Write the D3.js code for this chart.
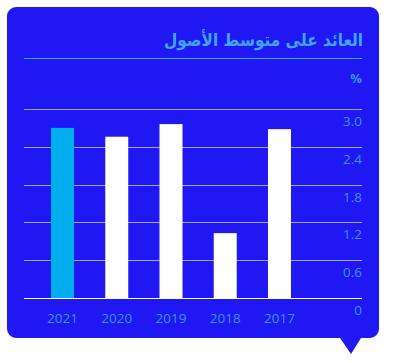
<!DOCTYPE html>
<html>
<head>
<meta charset="utf-8">
<script src="https://cdn.jsdelivr.net/npm/d3@7"></script>
<style>
  body { margin: 0; background: #fff; }
  svg { display: block; font-family: "Segoe UI", "Open Sans", "Noto Sans", "DejaVu Sans", sans-serif; }
</style>
</head>
<body>
<div id="chart"></div>
<script>
// data
const years = ['2021', '2020', '2019', '2018', '2017'];
const values = [2.7, 2.56, 2.76, 1.03, 2.68];
const yTicks = [0, 0.6, 1.2, 1.8, 2.4, 3.0];
const title = 'العائد على متوسط الأصول';
const unit = '%';

const width = 394;
const height = 363;

const svg = d3.select('#chart').append('svg').attr('width', width).attr('height', height);

// card with pointer at the bottom right
const card = { x: 7, y: 7, w: 372, h: 331, r: 9 };
const tip = { left: 340, right: 361, x: 351, y: 354 };
const p = d3.path();
p.moveTo(card.x + card.r, card.y);
p.lineTo(card.x + card.w - card.r, card.y);
p.arcTo(card.x + card.w, card.y, card.x + card.w, card.y + card.r, card.r);
p.lineTo(card.x + card.w, card.y + card.h - card.r);
p.arcTo(card.x + card.w, card.y + card.h, card.x + card.w - card.r, card.y + card.h, card.r);
p.lineTo(tip.right, card.y + card.h);
p.lineTo(tip.x, tip.y);
p.lineTo(tip.left, card.y + card.h);
p.lineTo(card.x + card.r, card.y + card.h);
p.arcTo(card.x, card.y + card.h, card.x, card.y + card.h - card.r, card.r);
p.lineTo(card.x, card.y + card.r);
p.arcTo(card.x, card.y, card.x + card.r, card.y, card.r);
p.closePath();
svg.append('path').attr('d', p.toString()).attr('fill', '#2018f2');

// title
svg.append('text')
  .attr('x', 363).attr('y', 40)
  .attr('text-anchor', 'end').attr('dominant-baseline', 'central')
  .attr('font-family', '"DejaVu Sans", sans-serif')
  .attr('font-size', 17.5).attr('font-weight', 'bold')
  .attr('textLength', 199).attr('lengthAdjust', 'spacingAndGlyphs')
  .attr('fill', '#3fa6f6')
  .text(title);

svg.append('line')
  .attr('x1', 24).attr('x2', 362).attr('y1', 58.5).attr('y2', 58.5)
  .attr('stroke', '#3fa6f6').attr('stroke-width', 1);

// scales
const x = d3.scaleBand().domain(years).range([35.4, 306.6]).paddingInner(0.576).paddingOuter(0.288);
const y = d3.scaleLinear().domain([0, 3]).range([298, 109]);

const labelColor = '#3b91f8';

// grid lines
svg.append('g')
  .selectAll('line')
  .data(yTicks)
  .join('line')
  .attr('x1', 24).attr('x2', 362)
  .attr('y1', (d) => Math.round(y(d)) + 0.5)
  .attr('y2', (d) => Math.round(y(d)) + 0.5)
  .attr('stroke', (d) => (d === 0 ? '#ffffff' : 'rgba(255,255,255,0.6)'))
  .attr('stroke-width', 1);

// y labels
svg.append('g')
  .selectAll('text')
  .data(yTicks)
  .join('text')
  .attr('x', 362)
  .attr('y', (d) => y(d) + 12)
  .attr('text-anchor', 'end').attr('dominant-baseline', 'central')
  .attr('font-size', 13.5)
  .attr('fill', labelColor)
  .text((d) => (d === 0 ? '0' : d.toFixed(1)));

svg.append('text')
  .attr('x', 362).attr('y', 78)
  .attr('text-anchor', 'end').attr('dominant-baseline', 'central')
  .attr('font-size', 13).attr('font-weight', 'bold')
  .attr('fill', labelColor)
  .text(unit);

// bars
svg.append('g')
  .selectAll('rect')
  .data(values)
  .join('rect')
  .attr('x', (d, i) => x(years[i]))
  .attr('width', x.bandwidth())
  .attr('y', (d) => y(d))
  .attr('height', (d) => y(0) - y(d))
  .attr('fill', (d, i) => (i === 0 ? '#00aef0' : '#ffffff'));

// x labels
svg.append('g')
  .selectAll('text')
  .data(years)
  .join('text')
  .attr('x', (d) => x(d) + x.bandwidth() / 2)
  .attr('y', 318)
  .attr('text-anchor', 'middle').attr('dominant-baseline', 'central')
  .attr('font-size', 13.5)
  .attr('fill', labelColor)
  .text((d) => d);
</script>
</body>
</html>
